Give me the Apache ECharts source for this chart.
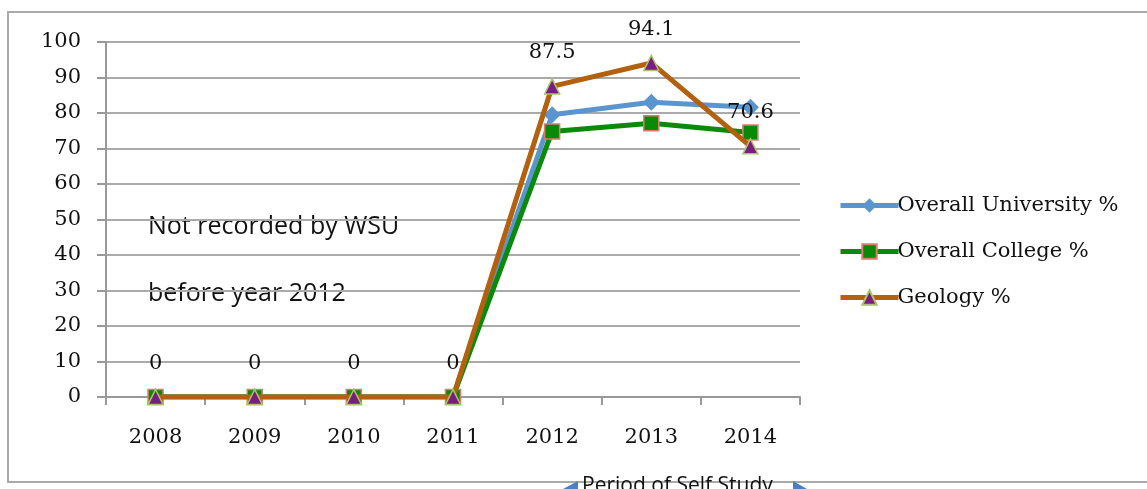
<!DOCTYPE html>
<html lang="en">
<head>
	<meta charset="UTF-8">
	<title>Self Study chart</title>
	<style type="text/css">
		html, body { margin: 0; padding: 0; background: #fff; }
		#a { width: 1147px; height: 489px; }
	</style>
</head>
<body>
	<div id="a"></div>
	<script type="text/javascript" src="https://cdn.jsdelivr.net/npm/echarts@6/dist/echarts.min.js"></script>
	<script type="text/javascript">
		// data
		var years = ['2008', '2009', '2010', '2011', '2012', '2013', '2014'];
		var university = [0, 0, 0, 0, 79.5, 83.0, 81.6];
		var college = [0, 0, 0, 0, 74.8, 77.1, 74.5];
		var geology = [0, 0, 0, 0, 87.5, 94.1, 70.6];
		var yTicks = [0, 10, 20, 30, 40, 50, 60, 70, 80, 90, 100];

		var serif = '"DejaVu Serif", "Liberation Serif", serif';
		var sans = '"Open Sans", "Noto Sans", sans-serif';
		var myChart = echarts.init(document.getElementById('a'));

		var option = {
			animation: false,
			backgroundColor: '#fff',
			grid: { left: 106, right: 347, top: 42, bottom: 92 },
			xAxis: {
				type: 'category',
				data: years,
				boundaryGap: true,
				axisLine: { lineStyle: { color: '#999', width: 2 } },
				axisTick: { show: true, length: 8, lineStyle: { color: '#999', width: 2 } },
				axisLabel: { margin: 30, fontFamily: serif, fontSize: 21, color: '#111' }
			},
			yAxis: {
				type: 'value',
				min: yTicks[0],
				max: yTicks[yTicks.length - 1],
				interval: 10,
				axisLine: { show: true, lineStyle: { color: '#999', width: 2 } },
				axisTick: { show: true, length: 9, lineStyle: { color: '#999', width: 2 } },
				splitLine: { lineStyle: { color: '#aaa', width: 2 } },
				axisLabel: { margin: 25, fontFamily: serif, fontSize: 21, color: '#111' }
			},
			legend: {
				orient: 'vertical',
				left: 833,
				top: 190,
				itemGap: 25,
				itemWidth: 58,
				itemHeight: 18,
				textStyle: { fontFamily: serif, fontSize: 21, color: '#111', padding: [0, 0, 0, -6] },
				data: [
					{ name: 'Overall University %', lineStyle: { width: 5 } },
					{ name: 'Overall College %', lineStyle: { width: 5 } },
					{ name: 'Geology %', lineStyle: { width: 5 } }
				]
			},
			graphic: [
				{ type: 'rect', shape: { x: 8, y: 12, width: 1150, height: 470 }, style: { fill: 'none', stroke: '#aaa', lineWidth: 2 }, z: -1 },
				{ type: 'text', x: 148, y: 227, style: { text: 'Not recorded by WSU', font: '25px ' + sans, fill: '#111', verticalAlign: 'middle' } },
				{ type: 'text', x: 148, y: 294, style: { text: 'before year 2012', font: '25px ' + sans, fill: '#111', verticalAlign: 'middle' } },
				{ type: 'text', x: 582, y: 476, style: { text: 'Period of Self Study', font: '21px ' + sans, fill: '#111', verticalAlign: 'top' } },
				{ type: 'polygon', shape: { points: [[563, 489], [578, 481], [578, 497]] }, style: { fill: '#4a7fc1' } },
				{ type: 'polygon', shape: { points: [[807, 489], [793, 481], [793, 497]] }, style: { fill: '#4a7fc1' } }
			],
			series: [
				{
					name: 'Overall University %',
					type: 'line',
					data: university,
					symbol: 'diamond',
					symbolSize: 17,
					lineStyle: { color: '#5b95cf', width: 5 },
					itemStyle: { color: '#5b95cf' },
					z: 2
				},
				{
					name: 'Overall College %',
					type: 'line',
					data: college,
					symbol: 'rect',
					symbolSize: 15,
					lineStyle: { color: '#0a8a0a', width: 5 },
					itemStyle: { color: '#078a07', borderColor: '#e07a6e', borderWidth: 1.5 },
					z: 3
				},
				{
					name: 'Geology %',
					type: 'line',
					data: geology,
					symbol: 'triangle',
					symbolSize: 15,
					lineStyle: { color: '#b3600f', width: 5 },
					itemStyle: { color: '#7b1d7e', borderColor: '#a9c46a', borderWidth: 1.5 },
					label: {
						show: true,
						position: 'top',
						distance: 15,
						fontFamily: serif,
						fontSize: 21,
						color: '#111'
					},
					z: 4
				}
			]
		};
		myChart.setOption(option);
	</script>
</body>
</html>
